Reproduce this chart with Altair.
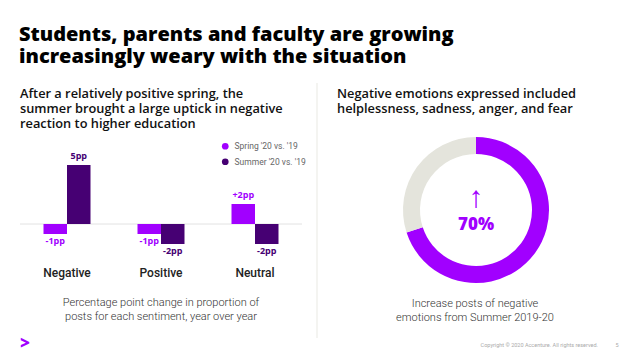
import altair as alt
import pandas as pd

# ---- data ----
categories = ["Negative", "Positive", "Neutral"]
series = ["Spring '20 vs. '19", "Summer '20 vs. '19"]
spring_vals = [-1, -1, 2]
summer_vals = [5.9, -2, -2]
spring_labels = ["-1pp", "-1pp", "+2pp"]
summer_labels = ["5pp", "-2pp", "-2pp"]

donut_parts = ["Increase", "Rest"]
donut_vals = [70, 30]

PURPLE = "#A100FF"
DARK = "#460073"
GREY = "#E4E4DC"

rows = []
for c, v, l in zip(categories, spring_vals, spring_labels):
    rows.append({"cat": c, "series": series[0], "val": v, "label": l, "zero": 0})
for c, v, l in zip(categories, summer_vals, summer_labels):
    rows.append({"cat": c, "series": series[1], "val": v, "label": l, "zero": 0})
bars_df = pd.DataFrame(rows)
donut_df = pd.DataFrame({"part": donut_parts, "share": donut_vals})
one = pd.DataFrame({"a": [0]})
zero_df = pd.DataFrame({"zero": [0]})

FONT = "Roboto"
HEAD = "Open Sans"

xscale = alt.Scale(domain=categories, range=[12, 294], paddingInner=0.5, paddingOuter=0.25)
xoff = alt.Scale(domain=series, paddingInner=0, paddingOuter=0)
yscale = alt.Scale(domain=[-3, 7], range=[246, 146])
cscale = alt.Scale(domain=series, range=[PURPLE, DARK])


def txt(text, x, y, size, weight="normal", color="#000", align="left", baseline="alphabetic", lh=None, font=FONT):
    kw = dict(text=text, fontSize=size, fontWeight=weight, color=color,
              align=align, baseline=baseline, font=font)
    if lh is not None:
        kw["lineHeight"] = lh
    return alt.Chart(one).mark_text(**kw).encode(x=alt.value(x), y=alt.value(y))


base = alt.Chart(bars_df)

X = alt.X("cat:N", scale=xscale, axis=None, sort=categories)
XO = alt.XOffset("series:N", scale=xoff, sort=series)
Y = alt.Y("val:Q", scale=yscale, axis=None)

axis_line = alt.Chart(zero_df).mark_rule(color="#E2E2E2", strokeWidth=1).encode(
    y=alt.Y("zero:Q", scale=yscale, axis=None), x=alt.value(12), x2=alt.value(294)
)

bars = base.mark_bar().encode(
    x=X, xOffset=XO, y=Y, y2="zero:Q",
    color=alt.Color("series:N", scale=cscale, sort=series,
                    legend=alt.Legend(title=None, orient="none", legendX=213, legendY=134,
                                      symbolType="circle", symbolSize=45, labelFontSize=8.5,
                                      labelColor="#666", labelFont=FONT, rowPadding=6.5,
                                      symbolStrokeWidth=0, labelOffset=5)),
)

pos_labels = base.transform_filter("datum.val > 0").mark_text(
    baseline="bottom", dy=-4, fontSize=9, fontWeight="bold", font=HEAD
).encode(x=X, xOffset=XO, y=Y, text="label:N",
         color=alt.Color("series:N", scale=cscale, sort=series))
neg_labels = base.transform_filter("datum.val < 0").mark_text(
    baseline="top", dy=3, fontSize=9, fontWeight="bold", font=HEAD
).encode(x=X, xOffset=XO, y=Y, text="label:N",
         color=alt.Color("series:N", scale=cscale, sort=series))

cat_labels = alt.Chart(pd.DataFrame({"cat": categories})).mark_text(
    fontSize=12, fontWeight=500, font=FONT, color="#222", baseline="alphabetic"
).encode(x=X, y=alt.value(269), text="cat:N")

donut = alt.Chart(donut_df).mark_arc(innerRadius=56, outerRadius=73).encode(
    theta=alt.Theta("share:Q", stack=True),
    order=alt.Order("part:N", sort="ascending"),
    color=alt.Color("part:N", scale=alt.Scale(domain=donut_parts, range=[PURPLE, GREY]), legend=None),
    x=alt.value(468),
    y=alt.value(202),
)

divider = alt.Chart(one).mark_rule(color="#EDEDE8", strokeWidth=1.2).encode(
    x=alt.value(309), y=alt.value(75), y2=alt.value(330)
)

layers = [
    divider,
    axis_line,
    bars,
    pos_labels,
    neg_labels,
    cat_labels,
    donut,
    txt(["Students, parents and faculty are growing", "increasingly weary with the situation"],
        11, 33, 20, weight=800, lh=22, font=HEAD),
    txt(["After a relatively positive spring, the", "summer brought a large uptick in negative",
         "reaction to higher education"], 12, 90, 12.8, weight=600, color="#111", lh=15, font=HEAD),
    txt(["Negative emotions expressed included", "helplessness, sadness, anger, and fear"],
        329, 90, 12.8, weight=600, color="#111", lh=15, font=HEAD),
    txt("↑", 468, 190, 30, weight=200, color=PURPLE, align="center", baseline="middle"),
    txt("70%", 468, 222, 17, weight=800, color=PURPLE, align="center", font=HEAD),
    txt(["Percentage point change in proportion of", "posts for each sentiment, year over year"],
        153, 298, 11, weight=300, color="#333", align="center", lh=14),
    txt(["Increase posts of negative", "emotions from Summer 2019-20"],
        467, 299, 11, weight=300, color="#333", align="center", lh=13.5),
    txt(">", 17, 341, 17, weight=900, color=PURPLE, align="center", baseline="alphabetic", font=HEAD),
    txt("Copyright © 2020 Accenture. All rights reserved.", 590, 337, 5.5, color="#AAA",
        align="right", baseline="middle"),
    txt("5", 609, 337, 5.5, color="#AAA", align="center", baseline="middle"),
]

chart = alt.layer(*layers).resolve_scale(color="independent").properties(
    width=622, height=343, padding=0, autosize=alt.AutoSizeParams(type="none"),
    background="white",
).configure_view(stroke=None)

chart.save("out.html", embed_options={"renderer": "svg", "actions": False})
